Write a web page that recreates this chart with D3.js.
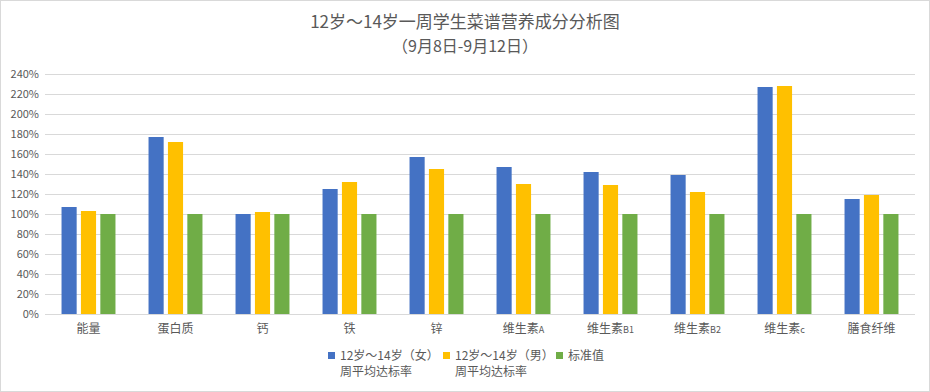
<!DOCTYPE html>
<html>
<head>
<meta charset="utf-8">
<script src="https://cdn.jsdelivr.net/npm/d3@7/dist/d3.min.js"></script>
<style>
body { margin: 0; background: #fff; }
text { font-family: "Noto Sans CJK SC", "Noto Sans", sans-serif; fill: #595959; }
</style>
</head>
<body>
<div id="chart"></div>
<script>
var categories = ['能量', '蛋白质', '钙', '铁', '锌', '维生素A', '维生素B1', '维生素B2', '维生素c', '膳食纤维'];
var girls = [107, 177, 100, 125, 157, 147, 142, 139, 227, 115];
var boys = [103, 172, 102, 132, 145, 130, 129, 122, 228, 119];
var standard = [100, 100, 100, 100, 100, 100, 100, 100, 100, 100];
var yTicks = [0, 20, 40, 60, 80, 100, 120, 140, 160, 180, 200, 220, 240];
var seriesNames = [['12岁～14岁（女）', '周平均达标率'], ['12岁～14岁（男）', '周平均达标率'], ['标准值']];
var seriesColors = ['#4472C4', '#FFC000', '#70AD47'];

var width = 930;
var height = 392;
var plot = { left: 45, right: 915, top: 74, bottom: 314 };

var svg = d3.select('#chart')
	.append('svg')
	.attr('width', width)
	.attr('height', height);

svg.append('rect')
	.attr('x', 0.5)
	.attr('y', 0.5)
	.attr('width', width - 1)
	.attr('height', height - 1)
	.attr('fill', '#fff')
	.attr('stroke', '#d9d9d9');

// title, two lines
svg.append('text')
	.attr('x', width / 2)
	.attr('y', 28)
	.attr('text-anchor', 'middle')
	.style('font-size', '17px')
	.text('12岁～14岁一周学生菜谱营养成分分析图');
svg.append('text')
	.attr('x', width / 2)
	.attr('y', 52)
	.attr('text-anchor', 'middle')
	.style('font-size', '16px')
	.text('（9月8日-9月12日）');

var yScale = d3.scaleLinear()
	.domain([0, 240])
	.range([plot.bottom, plot.top]);

var xScale = d3.scaleBand()
	.domain(categories)
	.range([plot.left, plot.right])
	.paddingInner(0.38)
	.paddingOuter(0.19);

var seriesScale = d3.scaleBand()
	.domain([0, 1, 2])
	.range([0, xScale.bandwidth()])
	.paddingInner(0.22);

// gridlines
svg.append('g')
	.selectAll('line')
	.data(yTicks)
	.enter()
	.append('line')
	.attr('x1', plot.left)
	.attr('x2', plot.right)
	.attr('y1', function(d) { return Math.round(yScale(d)) + 0.5; })
	.attr('y2', function(d) { return Math.round(yScale(d)) + 0.5; })
	.attr('stroke', '#d9d9d9')
	.attr('stroke-width', 1);

// y axis labels
var yAxis = d3.axisLeft(yScale)
	.tickValues(yTicks)
	.tickSize(0)
	.tickPadding(6)
	.tickFormat(function(d) { return d + '%'; });

var yAxisGroup = svg.append('g')
	.attr('transform', 'translate(' + plot.left + ',0)')
	.call(yAxis);
yAxisGroup.select('.domain').remove();
yAxisGroup.selectAll('text')
	.style('font-size', '11px')
	.style('font-family', '"Noto Sans CJK SC", sans-serif')
	.attr('fill', '#595959');

// bars
var data = categories.map(function(c, i) {
	return { cat: c, values: [girls[i], boys[i], standard[i]] };
});

var groups = svg.append('g')
	.selectAll('g')
	.data(data)
	.enter()
	.append('g')
	.attr('transform', function(d) { return 'translate(' + xScale(d.cat) + ',0)'; });

groups.selectAll('rect')
	.data(function(d) { return d.values; })
	.enter()
	.append('rect')
	.attr('x', function(d, i) { return seriesScale(i); })
	.attr('width', seriesScale.bandwidth())
	.attr('y', function(d) { return yScale(d); })
	.attr('height', function(d) { return plot.bottom - yScale(d); })
	.attr('fill', function(d, i) { return seriesColors[i]; });

// x axis
svg.append('line')
	.attr('x1', plot.left)
	.attr('x2', plot.right)
	.attr('y1', plot.bottom + 0.5)
	.attr('y2', plot.bottom + 0.5)
	.attr('stroke', '#d9d9d9');

var xLabels = svg.append('g')
	.selectAll('text')
	.data(categories)
	.enter()
	.append('text')
	.attr('x', function(d) { return xScale(d) + xScale.bandwidth() / 2; })
	.attr('y', 333)
	.attr('text-anchor', 'middle')
	.style('font-size', '12px');

xLabels.each(function(d) {
	var t = d3.select(this);
	var m = d.match(/^(.*?)([A-Za-z]\w*)$/);
	if (m) {
		t.append('tspan').text(m[1]);
		t.append('tspan').style('font-size', '9px').text(m[2]);
	} else {
		t.text(d);
	}
});

// legend
var legendX = [328, 443, 556];
var legend = svg.append('g')
	.selectAll('g')
	.data(seriesNames)
	.enter()
	.append('g')
	.attr('transform', function(d, i) { return 'translate(' + legendX[i] + ',0)'; });

legend.append('rect')
	.attr('x', 0)
	.attr('y', 352)
	.attr('width', 7)
	.attr('height', 7)
	.attr('fill', function(d, i) { return seriesColors[i]; });

legend.append('text')
	.style('font-size', '12px')
	.each(function(d) {
		var t = d3.select(this);
		d.forEach(function(line, j) {
			t.append('tspan')
				.attr('x', 12)
				.attr('y', 360 + j * 16)
				.text(line);
		});
	});
</script>
</body>
</html>
